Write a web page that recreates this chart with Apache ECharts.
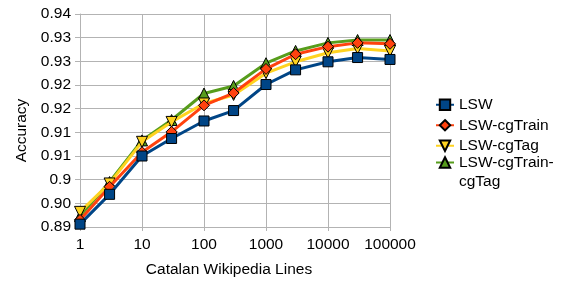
<!DOCTYPE html>
<html><head><meta charset="utf-8">
<script src="https://cdn.jsdelivr.net/npm/echarts@6/dist/echarts.min.js"></script>
<style>html,body{margin:0;padding:0;background:#fff}#c{width:576px;height:288px}</style>
</head><body><div id="c"></div>
<script>
const xValues = [1, 3, 10, 30, 100, 300, 1000, 3000, 10000, 30000, 100000];
const seriesNames = ['LSW', 'LSW-cgTrain', 'LSW-cgTag', 'LSW-cgTrain-cgTag'];
const lsw          = [0.8906, 0.8969, 0.9050, 0.9087, 0.9124, 0.9146, 0.9201, 0.9232, 0.9249, 0.9258, 0.9254];
const lswCgTrain   = [0.8915, 0.8985, 0.9058, 0.9101, 0.9157, 0.9183, 0.9234, 0.9265, 0.9281, 0.9289, 0.9287];
const lswCgTag     = [0.8932, 0.8992, 0.9080, 0.9122, 0.9161, 0.9179, 0.9225, 0.9249, 0.9268, 0.9277, 0.9272];
const lswCgTrainTag= [0.8923, 0.8995, 0.9083, 0.9126, 0.9182, 0.9198, 0.9246, 0.9272, 0.9289, 0.9295, 0.9295];
const yTickLabels = ['0.89', '0.90', '0.9', '0.91', '0.91', '0.92', '0.92', '0.93', '0.93', '0.94'];
const yMin = 0.89, yMax = 0.935, yStep = 0.005;

const FONT = 'Liberation Sans, Arial, sans-serif';
const FS = 15.5;
const colors = ['#004586', '#ff420e', '#ffd320', '#579d1c'];
const symbols = ['rect', 'diamond', 'triangle', 'triangle'];
const rotates = [0, 0, 180, 0];
const sizes = [10, 11, 11, 11];
const allData = [lsw, lswCgTrain, lswCgTag, lswCgTrainTag];
const zs = [5, 4, 3, 2];

const chart = echarts.init(document.getElementById('c'), null, {renderer: 'canvas'});
chart.setOption({
  animation: false,
  backgroundColor: '#fff',
  textStyle: {fontFamily: FONT},
  grid: {left: 80, right: 186, top: 14, bottom: 61, containLabel: false},
  xAxis: {
    type: 'log', logBase: 10, min: 1, max: 100000,
    name: 'Catalan Wikipedia Lines', nameLocation: 'middle', nameGap: 35,
    nameTextStyle: {fontFamily: FONT, fontSize: FS, color: '#000', padding: [0, 12, 0, 0]},
    axisLine: {show: true, lineStyle: {color: '#b3b3b3', width: 1}},
    axisTick: {show: true, length: 4, lineStyle: {color: '#b3b3b3'}},
    minorTick: {show: false},
    splitLine: {show: true, lineStyle: {color: '#b3b3b3', width: 1}},
    axisLabel: {fontFamily: FONT, fontSize: FS, color: '#000', margin: 10,
      formatter: v => String(Math.round(v))}
  },
  yAxis: {
    type: 'value', min: yMin, max: yMax, interval: yStep,
    name: 'Accuracy', nameLocation: 'middle', nameGap: 50, nameRotate: 90,
    nameTextStyle: {fontFamily: FONT, fontSize: FS, color: '#000', padding: [0, 20, 0, 0]},
    axisLine: {show: true, lineStyle: {color: '#b3b3b3', width: 1}},
    axisTick: {show: true, length: 5, lineStyle: {color: '#b3b3b3'}},
    splitLine: {show: true, lineStyle: {color: '#b3b3b3', width: 1}},
    axisLabel: {fontFamily: FONT, fontSize: FS, color: '#000', margin: 9,
      formatter: v => yTickLabels[Math.round((v - yMin) / yStep)]}
  },
  legend: [{
    orient: 'vertical', left: 435, top: 95, padding: 0,
    itemWidth: 18, itemHeight: 13, itemGap: 1, itemTextGap: 3,
    data: seriesNames.slice(0, 3),
    textStyle: {fontFamily: FONT, fontSize: FS, color: '#000', lineHeight: 19.5}
  }, {
    orient: 'vertical', left: 435, top: 134, padding: 0,
    itemWidth: 18, itemHeight: 13, itemGap: 1, itemTextGap: 3,
    data: [seriesNames[3]],
    formatter: n => '\u00a0\nLSW-cgTrain-\ncgTag',
    textStyle: {fontFamily: FONT, fontSize: FS, color: '#000', lineHeight: 19}
  }],
  series: seriesNames.map((name, i) => ({
    name: name,
    type: 'line',
    z: zs[i],
    data: xValues.map((x, j) => [x, allData[i][j]]),
    symbol: symbols[i],
    symbolRotate: rotates[i],
    symbolSize: sizes[i],
    showAllSymbol: true,
    lineStyle: {color: colors[i], width: 3},
    itemStyle: {color: colors[i], borderColor: '#000', borderWidth: 1},
    emphasis: {disabled: true}
  }))
});
</script></body></html>
